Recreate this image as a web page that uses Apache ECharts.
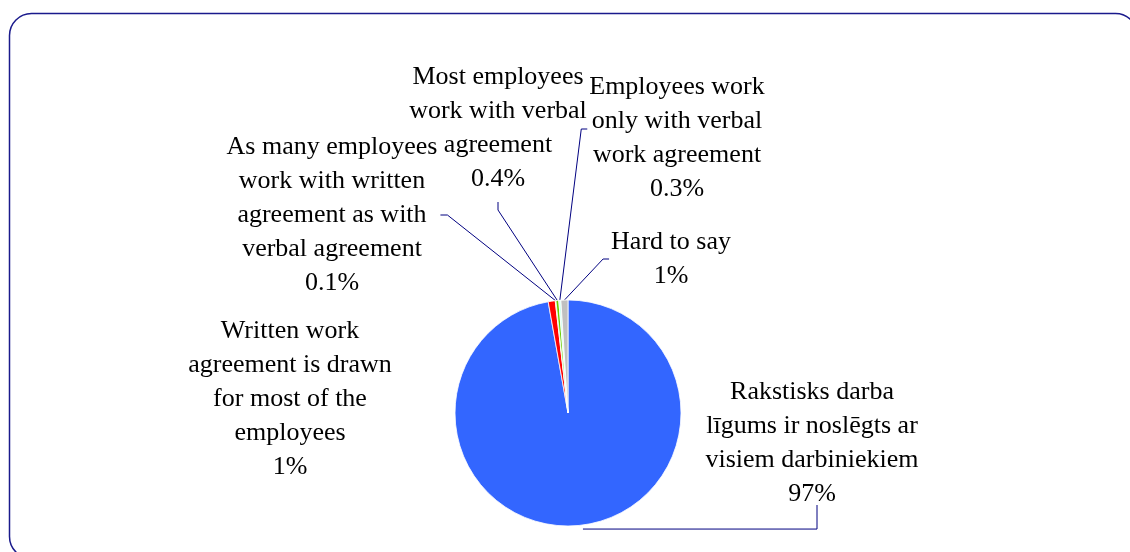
<!DOCTYPE html>
<html>
<head>
<meta charset="utf-8">
<script src="https://cdn.jsdelivr.net/npm/echarts@6/dist/echarts.min.js"></script>
<style>html,body{margin:0;padding:0;background:#fff}#c{width:1130px;height:552px}</style>
</head>
<body>
<div id="c"></div>
<script>
const categories = [
  "Rakstisks darba\nlīgums ir noslēgts ar\nvisiem darbiniekiem",
  "Written work\nagreement is drawn\nfor most of the\nemployees",
  "As many employees\nwork with written\nagreement as with\nverbal agreement",
  "Most employees\nwork with verbal\nagreement",
  "Employees work\nonly with verbal\nwork agreement",
  "Hard to say"
];
const values = [97, 1, 0.1, 0.4, 0.3, 1];
const sliceColors = ["#3366FF", "#FF0000", "#CCFF33", "#66CC00", "#CCFFEE", "#C0C0C0"];
// label anchor (center x, top y) per slice, which side the leader line leaves from, and its vertical offset
const labelPos = [[812, 375], [290, 314], [332, 130], [498, 60], [677, 70], [671, 225]];
const lineSide = ['bottomL', 'none', 'right', 'bottom', 'left', 'left'];
const lineOffset = [0, 0, 0, 0, -9, 0];

const chart = echarts.init(document.getElementById('c'));
chart.setOption({
  animation: false,
  graphic: [{
    type: 'rect',
    shape: { x: 9.5, y: 13.5, width: 1128, height: 545, r: 22 },
    style: { fill: 'none', stroke: '#1a1a8c', lineWidth: 1.5 },
    silent: true, z: -1
  }],
  series: [{
    type: 'pie',
    center: [568, 413],
    radius: 113,
    startAngle: 90,
    clockwise: true,
    avoidLabelOverlap: false,
    data: values.map((v, i) => ({
      value: v,
      name: categories[i],
      itemStyle: { color: sliceColors[i] },
      labelLine: { show: lineSide[i] !== 'none' }
    })),
    itemStyle: { borderColor: '#fff', borderWidth: 0.8 },
    label: {
      show: true,
      formatter: '{b}\n{c}%',
      fontFamily: 'Liberation Serif',
      fontSize: 26,
      lineHeight: 34,
      color: '#000',
      align: 'center'
    },
    labelLine: {
      show: true,
      length: 10,
      length2: 8,
      lineStyle: { color: '#000080', width: 1 }
    },
    labelLayout: function (params) {
      const i = params.dataIndex;
      const p = labelPos[i];
      const w = params.labelRect.width, h = params.labelRect.height;
      const left = p[0] - w / 2, right = p[0] + w / 2, bottom = p[1] + h;
      const midY = p[1] + h / 2 + lineOffset[i];
      const a = params.labelLinePoints ? params.labelLinePoints[0] : null;
      const out = { x: p[0], y: p[1], align: 'center', verticalAlign: 'top' };
      if (a) {
        const side = lineSide[i];
        if (side === 'bottom') out.labelLinePoints = [a, [p[0], bottom + 14], [p[0], bottom + 6]];
        else if (side === 'bottomL') out.labelLinePoints = [[a[0] + 5, a[1] + 3.5], [p[0] + 5, a[1] + 3.5], [p[0] + 5, bottom - 6]];
        else if (side === 'left') out.labelLinePoints = [a, [left - 8, midY], [left - 2, midY]];
        else if (side === 'right') out.labelLinePoints = [a, [right + 10, midY], [right + 3, midY]];
      }
      return out;
    }
  }]
});
</script>
</body>
</html>
